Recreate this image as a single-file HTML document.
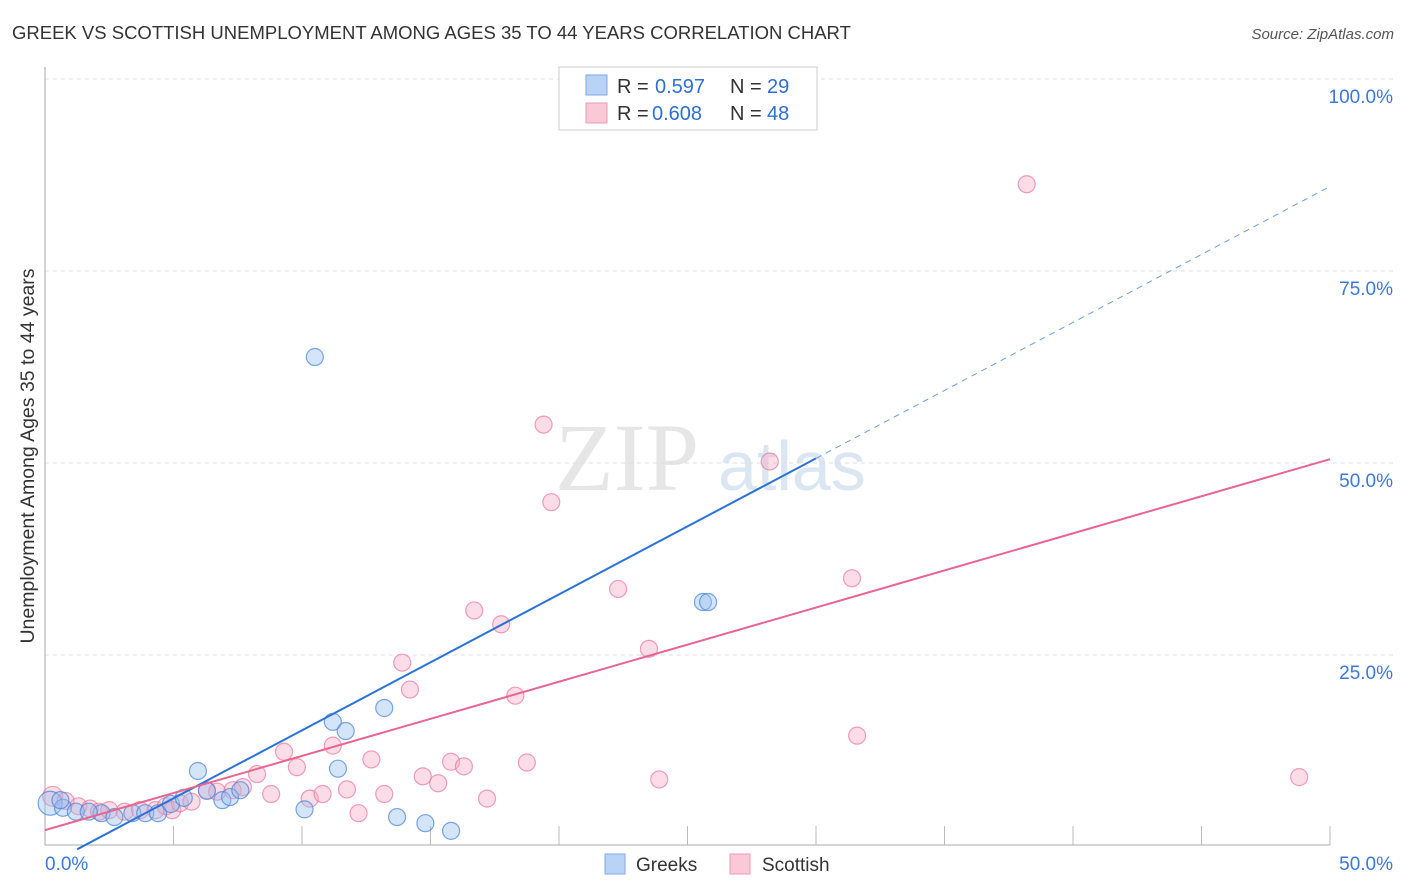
<!DOCTYPE html>
<html><head><meta charset="utf-8"><style>
body{margin:0;background:#fff;font-family:"Liberation Sans",sans-serif;}
svg{display:block}
</style></head><body>
<svg id="chart" width="1406" height="892" xmlns="http://www.w3.org/2000/svg">
<text x="12" y="39" font-size="18.5" fill="#333">GREEK VS SCOTTISH UNEMPLOYMENT AMONG AGES 35 TO 44 YEARS CORRELATION CHART</text>
<text x="1394" y="39" font-size="15" fill="#555" text-anchor="end" font-style="italic">Source: ZipAtlas.com</text>
<text x="555" y="490" font-size="96" fill="#e6e6e6" font-family="Liberation Serif,serif">ZIP</text>
<text x="718" y="490" font-size="70" fill="#dbe6f3">atlas</text>
<text transform="translate(34,456) rotate(-90)" text-anchor="middle" font-size="19.5" fill="#333">Unemployment Among Ages 35 to 44 years</text>
<g id="grid"></g><g id="pts"></g><g id="lines"></g>
<g font-size="20">
<rect x="559" y="67" width="258" height="63" fill="#fff" stroke="#ccc"/>
<rect x="586" y="75" width="21" height="20" fill="#b8d3f5" stroke="#7fa9e0"/>
<rect x="586" y="103" width="21" height="20" fill="#fbc8d8" stroke="#ee9ab5"/>
<text x="617" y="93" fill="#333">R =</text><text x="655" y="93" fill="#2f6fd0">0.597</text>
<text x="730" y="93" fill="#333">N =</text><text x="767" y="93" fill="#2f6fd0">29</text>
<text x="617" y="120" fill="#333">R =</text><text x="652" y="120" fill="#2f6fd0">0.608</text>
<text x="730" y="120" fill="#333">N =</text><text x="767" y="120" fill="#2f6fd0">48</text>
</g>
<g>
<rect x="605" y="854" width="20" height="20" fill="#b8d3f5" stroke="#7fa9e0"/>
<text x="636" y="871" font-size="19" fill="#333">Greeks</text>
<rect x="730" y="854" width="20" height="20" fill="#fbc8d8" stroke="#ee9ab5"/>
<text x="762" y="871" font-size="19" fill="#333">Scottish</text>
</g>
</svg>
<script>
const yTicks=[25,50,75,100];
const yTickLabels=["25.0%","50.0%","75.0%","100.0%"];
const xTicks=[0,5,10,15,20,25,30,35,40,45,50];
const greeksX=[0.2,0.7,1.2,2.2,2.7,3.4,3.9,4.4,4.9,5.4,5.95,6.3,6.9,7.2,7.6,10.1,10.5,11.2,11.4,11.7,13.2,13.7,14.8,15.8,25.6,25.8,23.5,0.6,1.7];
const greeksY=[5.7,5.1,4.6,4.4,3.9,4.4,4.4,4.4,5.6,6.4,9.9,7.3,6.1,6.5,7.4,4.9,63.8,16.3,10.2,15.1,18.1,3.9,3.1,2.1,31.9,31.9,99.9,6.1,4.6];
const scotX=[0.3,0.8,1.3,1.75,2.1,2.5,3.1,3.7,4.3,4.7,4.95,5.25,5.7,6.3,6.7,7.3,7.7,8.25,8.8,9.3,9.8,10.3,10.8,11.2,11.75,12.2,12.7,13.2,13.9,14.2,14.7,15.3,15.8,16.3,16.7,17.2,17.75,18.3,18.75,19.4,19.7,22.3,23.5,23.9,28.2,31.4,31.6,38.2,48.8];
const scotY=[6.6,6.0,5.3,5.0,4.6,4.8,4.6,4.8,4.8,5.3,4.8,5.7,5.9,7.4,7.2,7.4,7.8,9.5,6.9,12.4,10.4,6.3,6.9,13.2,7.5,4.4,11.4,6.9,24.0,20.5,9.2,8.3,11.1,10.5,30.8,6.3,29.0,19.7,11.0,55.0,44.9,33.6,25.8,8.8,50.2,35.0,14.5,86.3,9.1];
const blueLine=[1.25,-0.3,30,50.6];
const pinkLine=[0,2.2,50,50.5];
const X=v=>45+v*25.7, Y=v=>847-v*7.68;
const NS="http://www.w3.org/2000/svg";
function mk(t,a,p){const e=document.createElementNS(NS,t);for(const k in a)e.setAttribute(k,a[k]);p.appendChild(e);return e;}
const g=document.getElementById('grid');
yTicks.forEach((t,i)=>{
 const l=mk('line',{x1:45,x2:1394,y1:Y(t),y2:Y(t),stroke:'#ddd','stroke-dasharray':'4,4'},g);
 
 
 const tx=mk('text',{x:1393,y:Y(t)+24,'text-anchor':'end','font-size':19,fill:'#3b78d8'},g);
 tx.textContent=yTickLabels[i];
 
 
});
mk('line',{x1:45,x2:45,y1:67,y2:845,stroke:'#aaa'},g);
mk('line',{x1:45,x2:1330,y1:845,y2:845,stroke:'#aaa'},g);
xTicks.forEach(t=>{if(t>0){const l=mk('line',{x1:X(t),x2:X(t),y1:826,y2:845,stroke:'#bbb'},g);
 
 }});
const a=mk('text',{x:45,y:870,'font-size':19,fill:'#3b78d8'},g);a.textContent='0.0%';


const b=mk('text',{x:1393,y:870,'font-size':19,fill:'#3b78d8','text-anchor':'end'},g);b.textContent='50.0%';


const p=document.getElementById('pts');
scotX.forEach((x,i)=>{const c=mk('circle',{cx:X(x),cy:Y(scotY[i]),r:i==0?10:8.5,fill:'rgba(248,170,195,0.4)',stroke:'rgba(232,120,155,0.7)','stroke-width':1.2},p);
 
 });
greeksX.forEach((x,i)=>{const c=mk('circle',{cx:X(x),cy:Y(greeksY[i]),r:i==0?12:8.5,fill:'rgba(150,190,240,0.4)',stroke:'rgba(70,130,215,0.7)','stroke-width':1.2},p);
 
 });
const L=document.getElementById('lines');
const sl=(blueLine[3]-blueLine[1])/(blueLine[2]-blueLine[0]);
const bl=mk('line',{x1:X(blueLine[0]),y1:Y(blueLine[1]),x2:X(blueLine[2]),y2:Y(blueLine[3]),stroke:'#2a72d8','stroke-width':2},L);


const bd=mk('line',{x1:X(blueLine[2]),y1:Y(blueLine[3]),x2:X(50),y2:Y(blueLine[3]+sl*(50-blueLine[2])),stroke:'#6a9ee0','stroke-width':1,'stroke-dasharray':'6,5'},L);


const pl=mk('line',{x1:X(pinkLine[0]),y1:Y(pinkLine[1]),x2:X(pinkLine[2]),y2:Y(pinkLine[3]),stroke:'#e86590','stroke-width':2},L);


</script>
</body></html>
